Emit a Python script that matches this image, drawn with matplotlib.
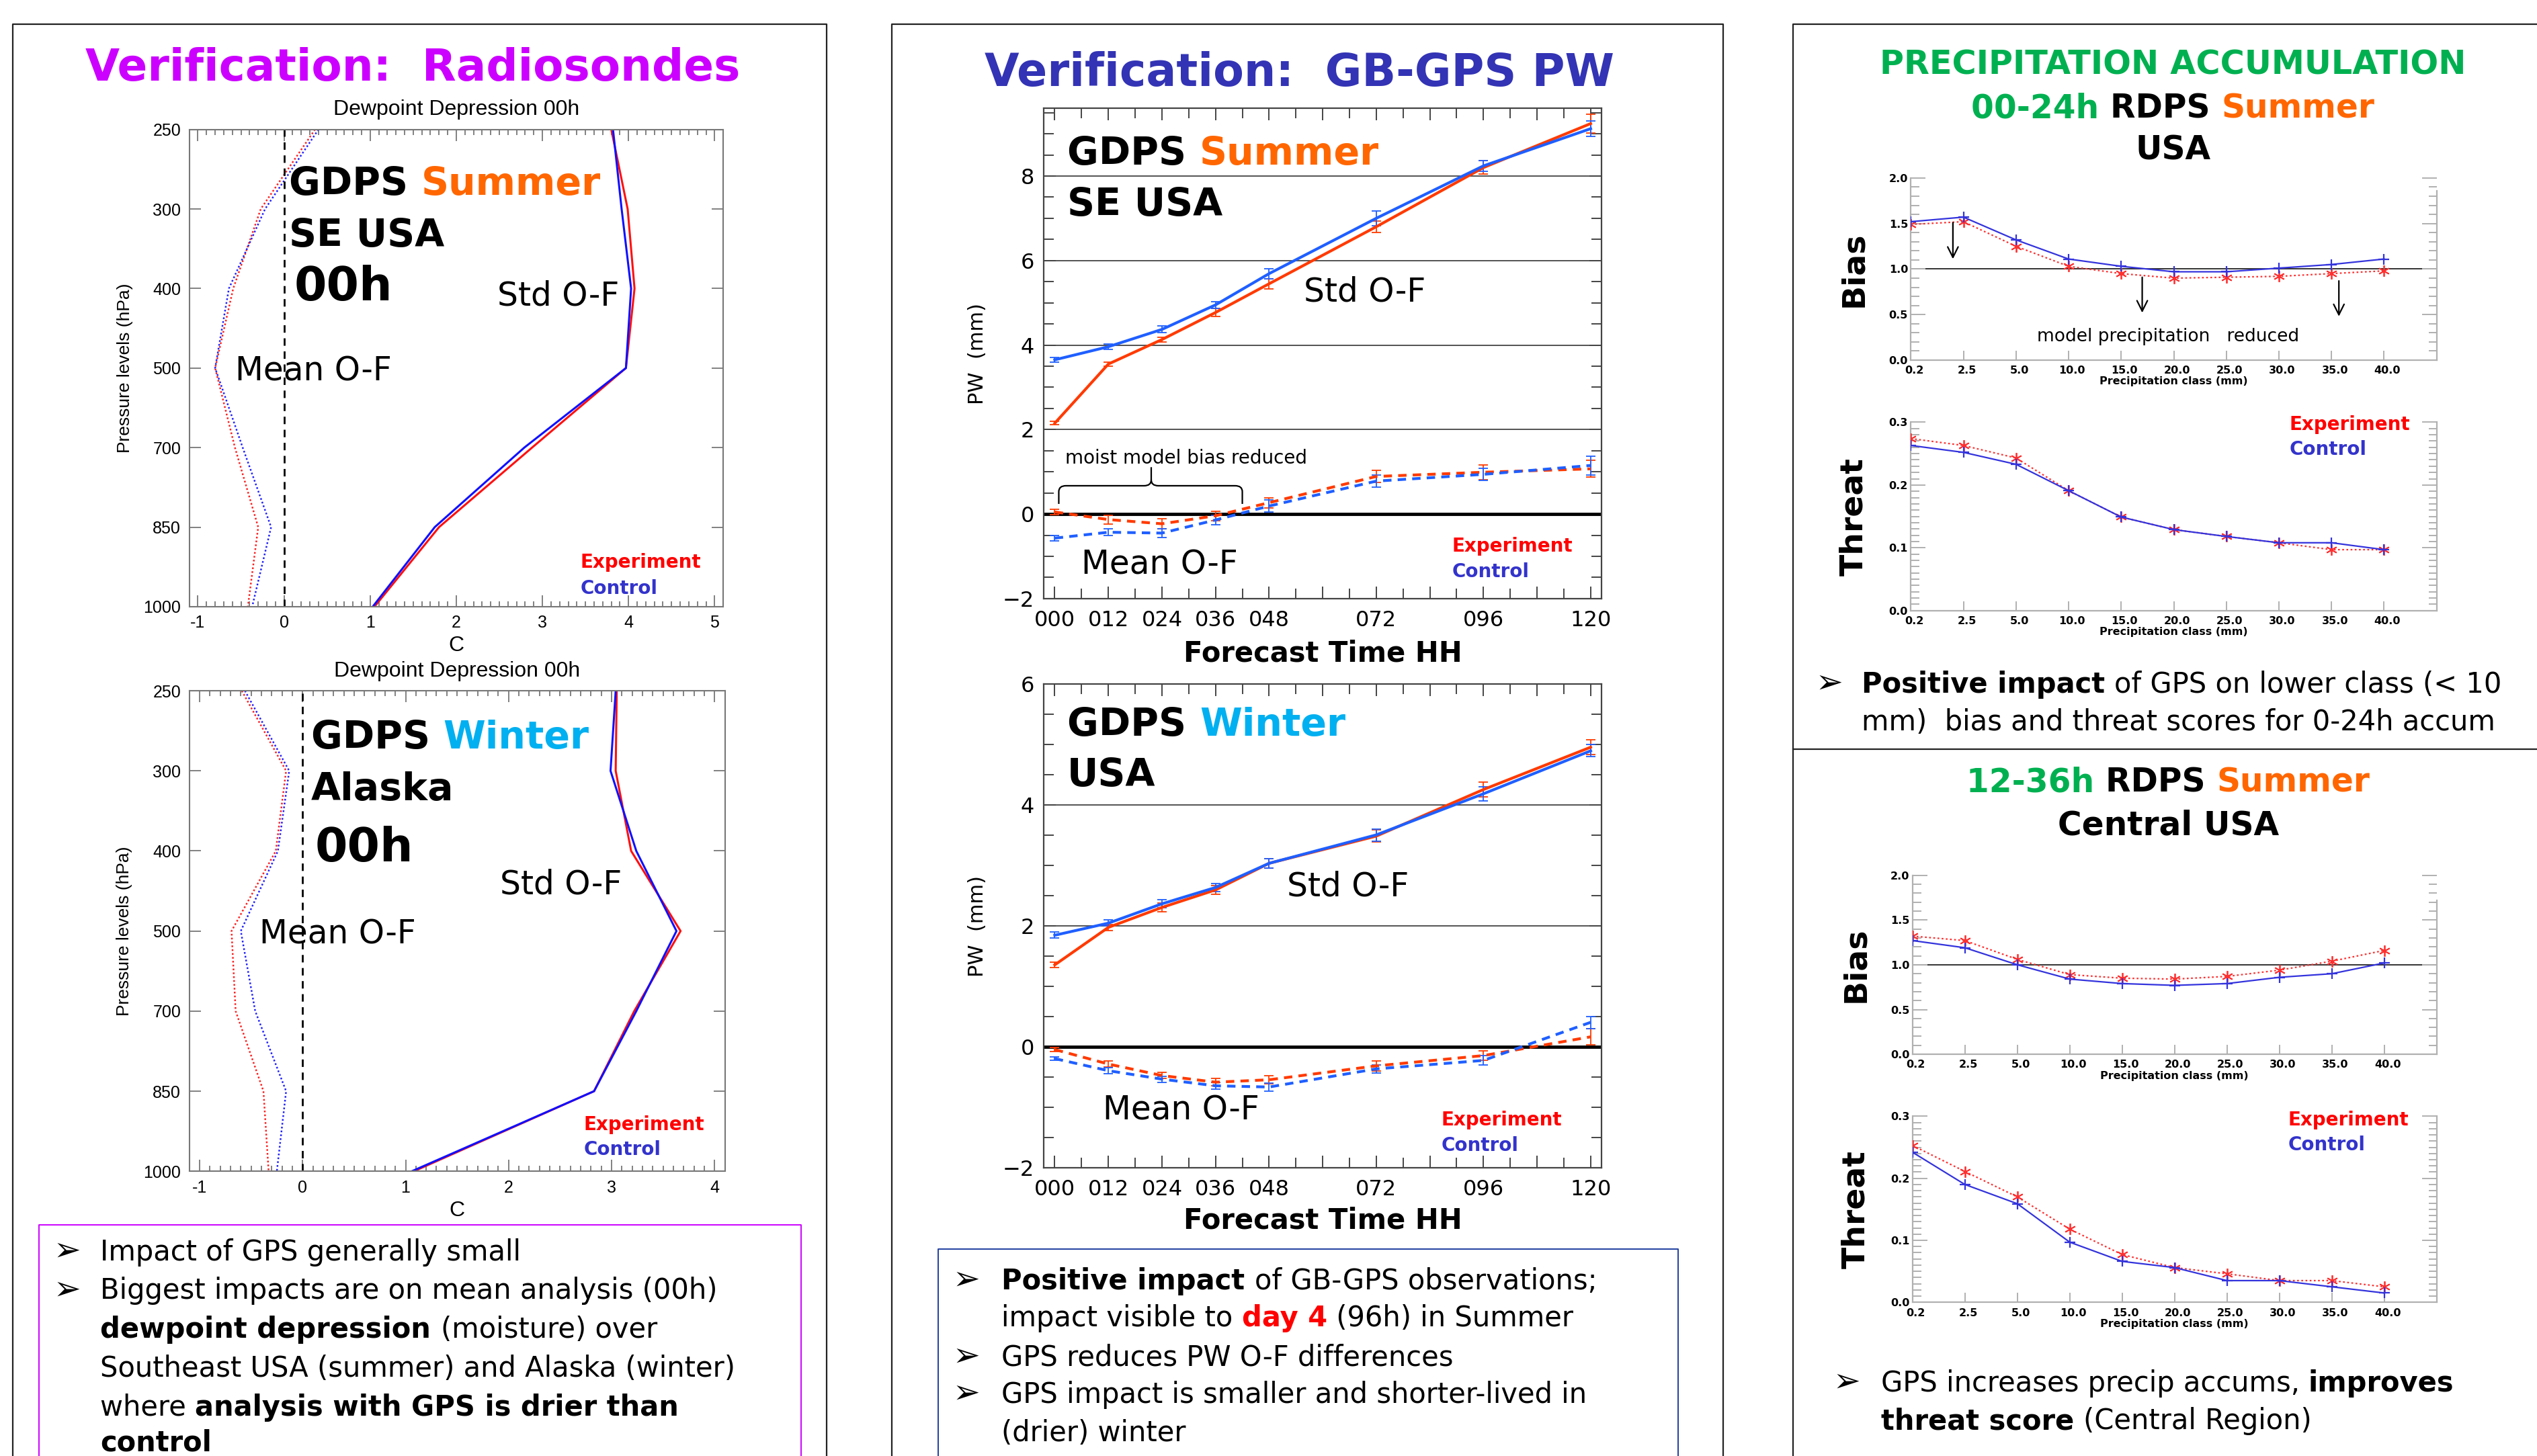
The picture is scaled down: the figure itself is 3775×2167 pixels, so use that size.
import matplotlib
matplotlib.use("Agg")
import matplotlib.pyplot as plt
from matplotlib.lines import Line2D
from matplotlib.path import Path
from matplotlib.patches import PathPatch
from matplotlib.transforms import ScaledTranslation, IdentityTransform
from matplotlib.ticker import MultipleLocator

# ---------------- data ----------------
pressure_levels = ['250', '300', '400', '500', '700', '850', '1000']
dd_summer_std_ctrl = [3.82, 3.92, 4.03, 3.97, 2.79, 1.75, 1.03]
dd_summer_std_exp = [3.80, 3.99, 4.07, 3.97, 2.88, 1.80, 1.05]
dd_summer_mean_ctrl = [0.40, -0.22, -0.64, -0.80, -0.48, -0.15, -0.37]
dd_summer_mean_exp = [0.36, -0.27, -0.59, -0.80, -0.57, -0.30, -0.42]
dd_winter_std_ctrl = [3.04, 2.99, 3.24, 3.63, 3.24, 2.83, 1.06]
dd_winter_std_exp = [3.05, 3.04, 3.19, 3.67, 3.22, 2.83, 1.08]
dd_winter_mean_ctrl = [-0.56, -0.13, -0.24, -0.60, -0.46, -0.16, -0.25]
dd_winter_mean_exp = [-0.59, -0.16, -0.26, -0.69, -0.65, -0.38, -0.33]

forecast_hours = [0, 12, 24, 36, 48, 72, 96, 120]
pw_summer_std_ctrl = [3.65, 3.96, 4.37, 4.95, 5.69, 7.00, 8.24, 9.12]
pw_summer_std_ctrl_err = [0.05, 0.07, 0.08, 0.08, 0.12, 0.17, 0.13, 0.18]
pw_summer_std_exp = [2.15, 3.55, 4.13, 4.77, 5.45, 6.80, 8.20, 9.24]
pw_summer_std_exp_err = [0.04, 0.05, 0.06, 0.09, 0.12, 0.13, 0.16, 0.22]
pw_summer_mean_ctrl = [-0.57, -0.43, -0.45, -0.14, 0.19, 0.78, 0.94, 1.15]
pw_summer_mean_ctrl_err = [0.07, 0.08, 0.10, 0.11, 0.14, 0.14, 0.15, 0.22]
pw_summer_mean_exp = [0.05, -0.13, -0.23, -0.04, 0.27, 0.89, 0.99, 1.07]
pw_summer_mean_exp_err = [0.06, 0.10, 0.12, 0.11, 0.12, 0.14, 0.17, 0.20]
pw_winter_std_ctrl = [1.85, 2.05, 2.37, 2.64, 3.04, 3.51, 4.19, 4.90]
pw_winter_std_ctrl_err = [0.05, 0.05, 0.07, 0.07, 0.08, 0.10, 0.12, 0.10]
pw_winter_std_exp = [1.36, 1.98, 2.31, 2.60, 3.04, 3.49, 4.26, 4.96]
pw_winter_std_exp_err = [0.04, 0.05, 0.07, 0.07, 0.08, 0.10, 0.12, 0.12]
pw_winter_mean_ctrl = [-0.19, -0.39, -0.53, -0.64, -0.66, -0.36, -0.22, 0.41]
pw_winter_mean_ctrl_err = [0.03, 0.05, 0.05, 0.06, 0.07, 0.07, 0.08, 0.10]
pw_winter_mean_exp = [-0.04, -0.28, -0.47, -0.58, -0.54, -0.31, -0.14, 0.17]
pw_winter_mean_exp_err = [0.03, 0.05, 0.05, 0.06, 0.07, 0.08, 0.08, 0.13]
hour_labels = ['000', '012', '024', '036', '048', '', '072', '', '096', '', '120']

precip_classes = ['0.2', '2.5', '5.0', '10.0', '15.0', '20.0', '25.0', '30.0', '35.0', '40.0']
bias_usa_ctrl = [1.52, 1.57, 1.32, 1.11, 1.03, 0.97, 0.97, 1.01, 1.05, 1.11]
bias_usa_exp = [1.49, 1.52, 1.25, 1.03, 0.95, 0.90, 0.91, 0.92, 0.95, 0.98]
threat_usa_ctrl = [0.263, 0.252, 0.233, 0.191, 0.149, 0.129, 0.118, 0.108, 0.108, 0.097]
threat_usa_exp = [0.274, 0.263, 0.243, 0.191, 0.149, 0.129, 0.118, 0.108, 0.097, 0.097]
bias_central_ctrl = [1.27, 1.19, 1.00, 0.84, 0.79, 0.77, 0.79, 0.86, 0.90, 1.02]
bias_central_exp = [1.32, 1.27, 1.06, 0.89, 0.85, 0.84, 0.87, 0.94, 1.04, 1.16]
threat_central_ctrl = [0.242, 0.190, 0.159, 0.097, 0.066, 0.056, 0.035, 0.035, 0.025, 0.015]
threat_central_exp = [0.253, 0.211, 0.170, 0.118, 0.077, 0.056, 0.046, 0.035, 0.035, 0.025]

# ---------------- colours ----------------
MAGENTA = '#CC00FF'
NAVY = '#3333B5'
ORANGE = '#FF6600'
CYAN = '#00B0F0'
GREEN = '#00B050'
EXP_RED = '#FF0000'
CTRL_BLUE = '#3333CC'
PW_RED = '#FF3A00'
PW_BLUE = '#1F5FFF'

plt.rcParams['font.family'] = ['DejaVu Sans']

FW, FH = 3775, 2167
W, H = 1568.0, 900.0   # layout is measured on the 1568x900 preview
fig = plt.figure(figsize=(FW / 100, FH / 100), dpi=100)
renderer = fig.canvas.get_renderer()


def add_ax(x0, y0, x1, y1):
    return fig.add_axes([x0 / W, 1 - y1 / H, (x1 - x0) / W, (y1 - y0) / H])


def fline(xs, ys, **kw):
    fig.add_artist(Line2D([x / W for x in xs], [1 - y / H for y in ys],
                          transform=fig.transFigure, **kw))


def px(x, y):
    return x / W * FW, (1 - y / H) * FH


def text_width(s, **kw):
    t = fig.text(0, 0, '|' + s + '|', **kw)
    w = t.get_window_extent(renderer).width
    t.remove()
    t = fig.text(0, 0, '||', **kw)
    w0 = t.get_window_extent(renderer).width
    t.remove()
    return w - w0


def rich(x, y, parts, size, ha='left'):
    """parts: (text, bold, colour); x, y in display pixels, y is baseline"""
    widths = [text_width(s, fontsize=size, fontweight='bold' if b else 'normal')
              for s, b, c in parts]
    if ha == 'center':
        x -= sum(widths) / 2
    for (s, b, c), w in zip(parts, widths):
        fig.text(x, y, s, fontsize=size, fontweight='bold' if b else 'normal',
                 color=c, va='baseline', ha='left', transform=IdentityTransform())
        x += w


def bullet_lines(bx, tx, baselines, lines, size=30):
    for yb, (has_bullet, parts) in zip(baselines, lines):
        if has_bullet:
            fig.text(*px(bx, yb), '\u27A2', fontsize=size + 5, va='baseline',
                     transform=IdentityTransform())
        rich(*px(tx, yb), parts, size)


# ---------------- panel frames ----------------
fline([8, 8, 511, 511], [902, 15, 15, 902], color='#222222', lw=1.6)
fline([551, 551, 1065, 1065], [902, 15, 15, 902], color='#222222', lw=1.6)
fline([1108, 1108, 1570], [902, 15, 15], color='#222222', lw=1.6)
fline([1108, 1570], [463, 463], color='#222222', lw=1.6)
fline([24, 24, 495, 495], [902, 757, 757, 902], color=MAGENTA, lw=1.4)
fline([580, 580, 1037, 1037], [902, 772, 772, 902], color='#1F3FA0', lw=1.4)

# ---------------- left: radiosondes ----------------
fig.text(255 / W, 1 - 50 / H, 'Verification:  Radiosondes', fontsize=47.5,
         fontweight='bold', color=MAGENTA, ha='center', va='baseline')


def dewpoint_axes(box, std_c, std_e, mean_c, mean_e, xmax):
    ax = add_ax(*box)
    lev = list(range(len(pressure_levels)))
    ax.plot(std_e, lev, color='#FF1010', lw=2.2)
    ax.plot(std_c, lev, color='#1010FF', lw=2.2)
    ax.plot(mean_e, lev, color='#FF2020', lw=1.8, ls=(0, (1, 1.3)))
    ax.plot(mean_c, lev, color='#2020FF', lw=1.8, ls=(0, (1, 1.3)))
    ax.axvline(0, color='k', lw=2, ls=(0, (4, 3)))
    ax.set_ylim(len(lev) - 1, 0)
    ax.set_xlim(-1.1, xmax + 0.1)
    ax.set_yticks(lev)
    ax.set_yticklabels(pressure_levels)
    xt = list(range(-1, xmax + 1))
    ax.set_xticks(xt)
    ax.set_xticklabels([str(v) for v in xt])
    ax.xaxis.set_minor_locator(MultipleLocator(0.1))
    for sp in ax.spines.values():
        sp.set_color('#777777')
        sp.set_linewidth(1.5)
    ax.tick_params(which='both', direction='in', top=True, right=True,
                   color='#777777', width=1.3)
    ax.tick_params(which='major', length=12, labelsize=18, pad=9)
    ax.tick_params(which='minor', length=6)
    for lb in ax.get_xticklabels() + ax.get_yticklabels():
        lb.set_family('Liberation Sans')
    ax.annotate('Dewpoint Depression 00h', xy=(0.5, 1), xycoords='axes fraction',
                xytext=(0, 21), textcoords='offset points', ha='center', va='center',
                fontsize=23, family='Liberation Sans')
    ax.annotate('C', xy=(0.5, 0), xycoords='axes fraction', xytext=(0, -42),
                textcoords='offset points', ha='center', va='center',
                fontsize=23, family='Liberation Sans')
    ax.text(-0.121, 0.5, 'Pressure levels (hPa)', transform=ax.transAxes,
            rotation=90, ha='center', va='center', fontsize=19,
            family='Liberation Sans')
    return ax


ax1 = dewpoint_axes((117, 80, 447, 375), dd_summer_std_ctrl, dd_summer_std_exp,
                    dd_summer_mean_ctrl, dd_summer_mean_exp, 5)
rich(*ax1.transData.transform((0.06, 0.82)), [('GDPS ', True, 'k'), ('Summer', True, ORANGE)], 41)
rich(*ax1.transData.transform((0.06, 1.47)), [('SE USA', True, 'k')], 41)
rich(*ax1.transData.transform((0.12, 2.15)), [('00h', True, 'k')], 50)
rich(*ax1.transData.transform((2.48, 2.21)), [('Std O-F', False, 'k')], 35)
rich(*ax1.transData.transform((-0.57, 3.16)), [('Mean O-F', False, 'k')], 35)
rich(*ax1.transData.transform((3.44, 5.51)), [('Experiment', True, EXP_RED)], 20)
rich(*ax1.transData.transform((3.44, 5.84)), [('Control', True, CTRL_BLUE)], 20)

ax2 = dewpoint_axes((117, 427, 448, 724), dd_winter_std_ctrl, dd_winter_std_exp,
                    dd_winter_mean_ctrl, dd_winter_mean_exp, 4)
rich(*ax2.transData.transform((0.08, 0.72)), [('GDPS ', True, 'k'), ('Winter', True, CYAN)], 41)
rich(*ax2.transData.transform((0.08, 1.37)), [('Alaska', True, 'k')], 41)
rich(*ax2.transData.transform((0.12, 2.13)), [('00h', True, 'k')], 50)
rich(*ax2.transData.transform((1.92, 2.54)), [('Std O-F', False, 'k')], 35)
rich(*ax2.transData.transform((-0.42, 3.16)), [('Mean O-F', False, 'k')], 35)
rich(*ax2.transData.transform((2.73, 5.49)), [('Experiment', True, EXP_RED)], 20)
rich(*ax2.transData.transform((2.73, 5.80)), [('Control', True, CTRL_BLUE)], 20)

bullet_lines(33, 62, [779, 803, 827, 851, 875, 897], [
    (True, [('Impact of GPS generally small', False, 'k')]),
    (True, [('Biggest impacts are on mean analysis (00h)', False, 'k')]),
    (False, [('dewpoint depression ', True, 'k'), ('(moisture) over', False, 'k')]),
    (False, [('Southeast USA (summer) and Alaska (winter)', False, 'k')]),
    (False, [('where ', False, 'k'), ('analysis with GPS is drier than', True, 'k')]),
    (False, [('control', True, 'k')]),
])

# ---------------- middle: GB-GPS PW ----------------
fig.text(803 / W, 1 - 53 / H, 'Verification:  GB-GPS PW', fontsize=48,
         fontweight='bold', color=NAVY, ha='center', va='baseline')


def pw_axes(box, ytop, std_c, std_c_err, std_e, std_e_err,
            mean_c, mean_c_err, mean_e, mean_e_err):
    ax = add_ax(*box)
    ax.set_xlim(-2.5, 122.5)
    ax.set_ylim(-2, ytop)
    for g in range(2, int(ytop) + 1, 2):
        ax.axhline(g, color='#444444', lw=1.3, zorder=1)
    ax.axhline(0, color='k', lw=3.5, zorder=2)
    kw = dict(capsize=5, elinewidth=1.3, capthick=1.3, lw=3, zorder=3)
    ax.errorbar(forecast_hours, std_e, yerr=std_e_err, color=PW_RED, **kw)
    ax.errorbar(forecast_hours, std_c, yerr=std_c_err, color=PW_BLUE, **kw)
    for m, e, c in ((mean_e, mean_e_err, PW_RED), (mean_c, mean_c_err, PW_BLUE)):
        ln, caps, bars = ax.errorbar(forecast_hours, m, yerr=e, color=c, **kw)
        ln.set_linestyle((0, (3, 2.2)))
    ax.set_xticks(list(range(0, 121, 12)))
    ax.set_xticklabels(hour_labels)
    ax.xaxis.set_minor_locator(MultipleLocator(6))
    yt = list(range(-2, int(ytop) + 1, 2))
    ax.set_yticks(yt)
    ax.set_yticklabels([str(v).replace('-', '\u2212') for v in yt])
    ax.yaxis.set_minor_locator(MultipleLocator(0.5))
    for sp in ax.spines.values():
        sp.set_color('#444444')
        sp.set_linewidth(1.6)
    ax.tick_params(which='both', direction='in', top=True, right=True,
                   color='#444444', width=1.4)
    ax.tick_params(which='major', length=13, labelsize=23, pad=10)
    ax.tick_params(axis='x', which='major', pad=12)
    ax.tick_params(which='minor', length=11)
    ax.text(-0.119, 0.5, 'PW  (mm)', transform=ax.transAxes, rotation=90,
            ha='center', va='center', fontsize=22)
    return ax


ax3 = pw_axes((645, 67, 990, 370), 9.6, pw_summer_std_ctrl, pw_summer_std_ctrl_err,
              pw_summer_std_exp, pw_summer_std_exp_err, pw_summer_mean_ctrl,
              pw_summer_mean_ctrl_err, pw_summer_mean_exp, pw_summer_mean_exp_err)
ax3.annotate('Forecast Time HH', xy=(0.5, 0), xycoords='axes fraction', xytext=(0, -59),
             textcoords='offset points', ha='center', va='center', fontsize=30,
             fontweight='bold')
rich(*ax3.transData.transform((2.8, 8.27)), [('GDPS ', True, 'k'), ('Summer', True, ORANGE)], 41)
rich(*ax3.transData.transform((2.8, 7.06)), [('SE USA', True, 'k')], 41)
rich(*ax3.transData.transform((55.7, 5.03)), [('Std O-F', False, 'k')], 35)
rich(*ax3.transData.transform((6.0, -1.42)), [('Mean O-F', False, 'k')], 35)
rich(*ax3.transData.transform((2.4, 1.2)), [('moist model bias reduced', False, 'k')], 20)
rich(*ax3.transData.transform((88.9, -0.89)), [('Experiment', True, EXP_RED)], 20)
rich(*ax3.transData.transform((88.9, -1.50)), [('Control', True, CTRL_BLUE)], 20)

# curly brace over the first forecast hours
bx0, bx1, bxm, byb, byh, byt, rx, ry = 0.9, 42.0, 21.6, 0.24, 0.67, 1.11, 1.6, 0.14
brace = Path(
    [(bx0, byb), (bx0, byh - ry), (bx0, byh), (bx0 + rx, byh), (bxm - rx, byh),
     (bxm, byh), (bxm, byh + ry), (bxm, byt),
     (bxm, byh + ry), (bxm, byh), (bxm + rx, byh), (bx1 - rx, byh),
     (bx1, byh), (bx1, byh - ry), (bx1, byb)],
    [Path.MOVETO, Path.LINETO, Path.CURVE3, Path.CURVE3, Path.LINETO,
     Path.CURVE3, Path.CURVE3, Path.LINETO,
     Path.MOVETO, Path.CURVE3, Path.CURVE3, Path.LINETO,
     Path.CURVE3, Path.CURVE3, Path.LINETO])
ax3.add_patch(PathPatch(brace, fill=False, lw=1.6, color='k', zorder=4))

ax4 = pw_axes((645, 423, 990, 722), 6, pw_winter_std_ctrl, pw_winter_std_ctrl_err,
              pw_winter_std_exp, pw_winter_std_exp_err, pw_winter_mean_ctrl,
              pw_winter_mean_ctrl_err, pw_winter_mean_exp, pw_winter_mean_exp_err)
ax4.annotate('Forecast Time HH', xy=(0.5, 0), xycoords='axes fraction', xytext=(0, -56),
             textcoords='offset points', ha='center', va='center', fontsize=30,
             fontweight='bold')
rich(*ax4.transData.transform((2.8, 5.15)), [('GDPS ', True, 'k'), ('Winter', True, CYAN)], 41)
rich(*ax4.transData.transform((2.8, 4.32)), [('USA', True, 'k')], 41)
rich(*ax4.transData.transform((52.0, 2.5)), [('Std O-F', False, 'k')], 35)
rich(*ax4.transData.transform((10.8, -1.2)), [('Mean O-F', False, 'k')], 35)
rich(*ax4.transData.transform((86.5, -1.3)), [('Experiment', True, EXP_RED)], 20)
rich(*ax4.transData.transform((86.5, -1.72)), [('Control', True, CTRL_BLUE)], 20)

bullet_lines(589, 619, [797, 820, 844, 867, 891], [
    (True, [('Positive impact ', True, 'k'), ('of GB-GPS observations;', False, 'k')]),
    (False, [('impact visible to ', False, 'k'), ('day 4', True, EXP_RED),
             (' (96h) in Summer', False, 'k')]),
    (True, [('GPS reduces PW O-F differences', False, 'k')]),
    (True, [('GPS impact is smaller and shorter-lived in', False, 'k')]),
    (False, [('(drier) winter', False, 'k')]),
])

# ---------------- right: precipitation ----------------
fig.text(1343 / W, 1 - 46 / H, 'PRECIPITATION ACCUMULATION', fontsize=35.5,
         fontweight='bold', color=GREEN, ha='center', va='baseline')
rich(*px(1343, 72.7), [('00-24h ', True, GREEN), ('RDPS ', True, 'k'),
                       ('Summer', True, ORANGE)], 35, ha='center')
rich(*px(1343, 98.8), [('USA', True, 'k')], 35, ha='center')
rich(*px(1340, 489.4), [('12-36h ', True, GREEN), ('RDPS ', True, 'k'),
                        ('Summer', True, ORANGE)], 35, ha='center')
rich(*px(1340, 516), [('Central USA', True, 'k')], 35, ha='center')


def precip_axes(box, ctrl, exp, ymax, major, minor, fmt, label, right_top, line1=False):
    ax = add_ax(*box)
    idx = list(range(len(precip_classes)))
    if line1:
        ax.axhline(1.0, color='#222222', lw=1.3, zorder=1)
    ax.plot(idx, exp, color='#FF3030', lw=1.6, ls=(0, (1.2, 1.6)), marker=(6, 2, 0),
            ms=12, mew=1.3, zorder=3)
    ax.plot(idx, ctrl, color='#3333DD', lw=1.6, marker='+', ms=12, mew=1.6, zorder=3)
    ax.set_xlim(0, 10)
    ax.set_ylim(0, ymax)
    ax.set_xticks(idx)
    ax.set_xticklabels(precip_classes)
    yt = [i * major for i in range(int(round(ymax / major)) + 1)]
    ax.set_yticks(yt)
    ax.set_yticklabels([fmt % v for v in yt])
    ax.yaxis.set_minor_locator(MultipleLocator(minor))
    ax.spines['top'].set_visible(False)
    ax.spines['right'].set_bounds(0, right_top)
    for sp in ax.spines.values():
        sp.set_color('#B0B0B0')
        sp.set_linewidth(1.6)
    ax.tick_params(which='both', direction='in', right=True, top=False,
                   color='#B0B0B0', width=1.4)
    ax.tick_params(axis='y', which='major', length=16, labelsize=11.5, pad=3)
    ax.tick_params(axis='y', which='minor', length=9)
    ax.tick_params(axis='x', which='major', length=10, labelsize=11.5, pad=6)
    ax.tick_params(axis='x', which='minor', length=0)
    for lb in ax.get_xticklabels() + ax.get_yticklabels():
        lb.set_fontweight('bold')
    off = ScaledTranslation(5 / 100, 0, fig.dpi_scale_trans)
    for lb in ax.get_xticklabels():
        lb.set_transform(lb.get_transform() + off)
    ax.annotate('Precipitation class (mm)', xy=(0.5, 0), xycoords='axes fraction',
                xytext=(0, -23), textcoords='offset points', ha='center', va='center',
                fontsize=11.5, fontweight='bold')
    ax.text(-0.108, 0.5, label, transform=ax.transAxes, rotation=90, ha='center',
            va='center', fontsize=34, fontweight='bold')
    return ax


ax5 = precip_axes((1181, 110, 1506, 222.6), bias_usa_ctrl, bias_usa_exp, 2.0, 0.5, 0.1,
                  '%.1f', 'Bias', 1.86, line1=True)
for ax_x, y_from, y_to in ((0.8, 1.51, 1.11), (4.4, 0.91, 0.52), (8.14, 0.87, 0.48)):
    ax5.annotate('', xy=(ax_x, y_to), xytext=(ax_x, y_from),
                 arrowprops=dict(arrowstyle='->', lw=1.6, color='k', mutation_scale=28,
                                 shrinkA=0, shrinkB=0))
rich(*ax5.transData.transform((2.4, 0.21)), [('model precipitation   reduced', False, 'k')], 19)

ax6 = precip_axes((1181, 261, 1506, 377.4), threat_usa_ctrl, threat_usa_exp, 0.3, 0.1, 0.01,
                  '%.1f', 'Threat', 0.3)
rich(*ax6.transData.transform((7.2, 0.288)), [('Experiment', True, EXP_RED)], 20)
rich(*ax6.transData.transform((7.2, 0.248)), [('Control', True, CTRL_BLUE)], 20)

bullet_lines(1122, 1150.5, [428, 451.5], [
    (True, [('Positive impact ', True, 'k'), ('of GPS on lower class (< 10', False, 'k')]),
    (False, [('mm)  bias and threat scores for 0-24h accum', False, 'k')]),
])

ax7 = precip_axes((1182, 541, 1506, 651.7), bias_central_ctrl, bias_central_exp, 2.0, 0.5, 0.1,
                  '%.1f', 'Bias', 1.72, line1=True)
ax8 = precip_axes((1182, 690, 1506, 805), threat_central_ctrl, threat_central_exp, 0.3, 0.1, 0.01,
                  '%.1f', 'Threat', 0.3)
rich(*ax8.transData.transform((7.16, 0.285)), [('Experiment', True, EXP_RED)], 20)
rich(*ax8.transData.transform((7.16, 0.245)), [('Control', True, CTRL_BLUE)], 20)

bullet_lines(1133, 1162.5, [860, 883.5], [
    (True, [('GPS increases precip accums, ', False, 'k'), ('improves', True, 'k')]),
    (False, [('threat score ', True, 'k'), ('(Central Region)', False, 'k')]),
])

fig.savefig('out.png', dpi=100)
